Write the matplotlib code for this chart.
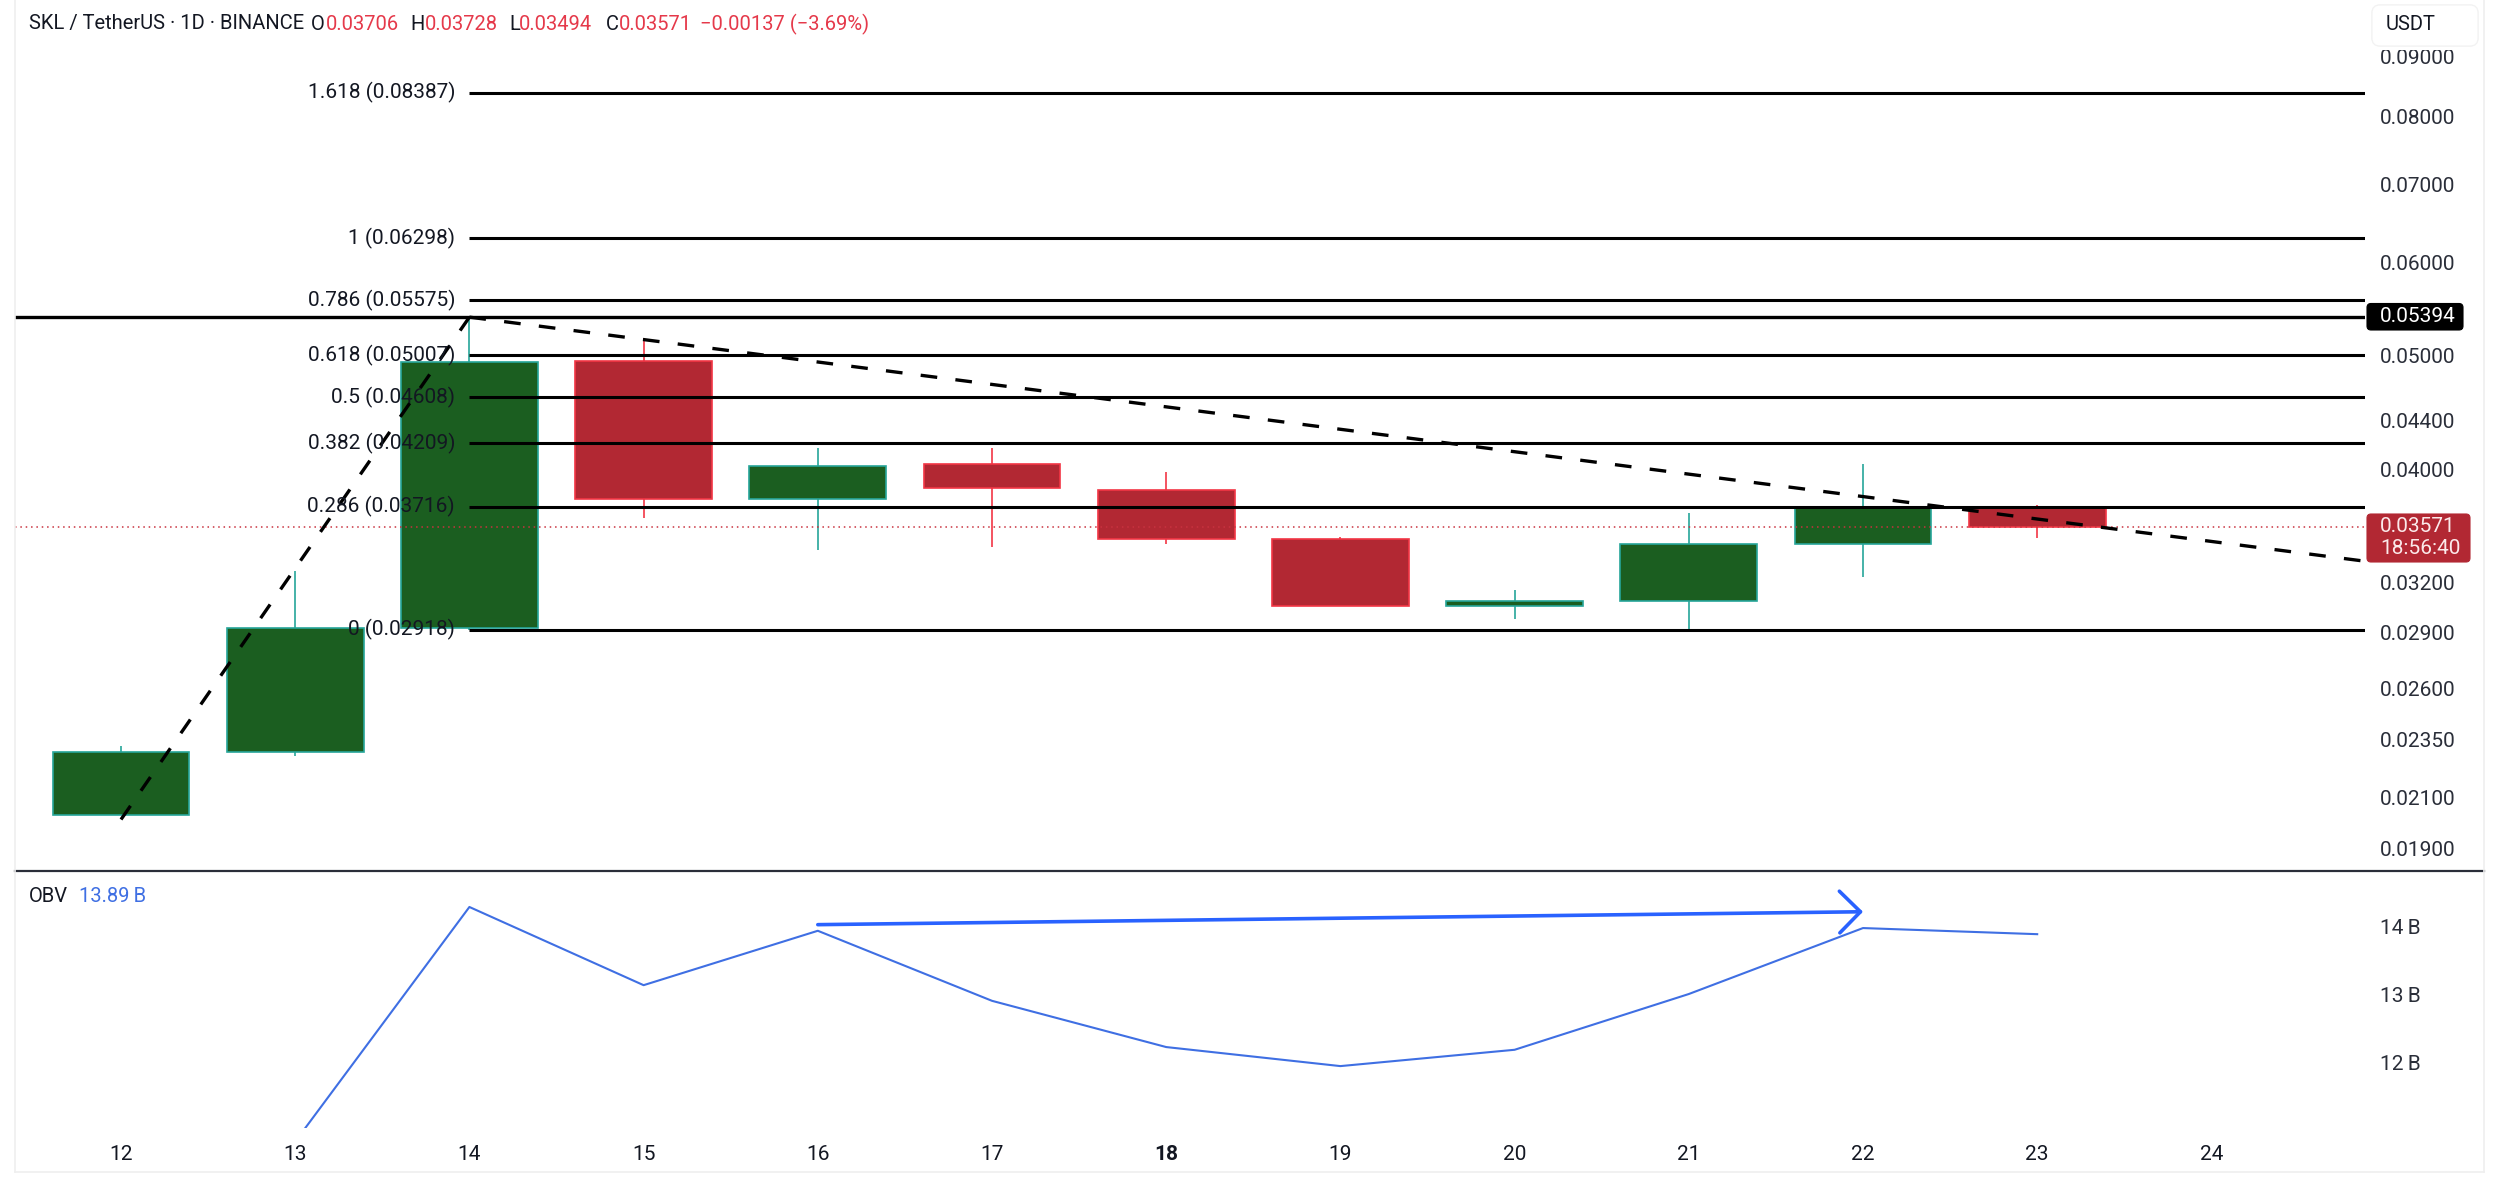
import numpy as np
import matplotlib
matplotlib.use('Agg')
import matplotlib.pyplot as plt
from matplotlib.lines import Line2D
from matplotlib.patches import FancyBboxPatch

plt.rcParams['font.family'] = ['Roboto', 'DejaVu Sans']

days = [12, 13, 14, 15, 16, 17, 18, 19, 20, 21, 22, 23]
opens = [0.02029, 0.02293, 0.02927, 0.04950, 0.03773, 0.04042, 0.03844, 0.03489, 0.03058, 0.03087, 0.03456, 0.03706]
highs = [0.02321, 0.03277, 0.05394, 0.05177, 0.04171, 0.04171, 0.03979, 0.03500, 0.03156, 0.03668, 0.04042, 0.03728]
lows = [0.02029, 0.02278, 0.02918, 0.03633, 0.03413, 0.03435, 0.03456, 0.03058, 0.02983, 0.02918, 0.03236, 0.03494]
closes = [0.02293, 0.02927, 0.04939, 0.03773, 0.04029, 0.03856, 0.03489, 0.03058, 0.03087, 0.03456, 0.03716, 0.03571]
obv = [10.84, 14.29, 13.14, 13.94, 12.91, 12.23, 11.95, 12.19, 13.01, 13.98, 13.89]
obv_days = [13, 14, 15, 16, 17, 18, 19, 20, 21, 22, 23]

fib_labels = ['1.618 (0.08387)', '1 (0.06298)', '0.786 (0.05575)', '0.618 (0.05007)',
              '0.5 (0.04608)', '0.382 (0.04209)', '0.286 (0.03716)', '0 (0.02918)']
fib_values = [0.08387, 0.06298, 0.05575, 0.05007, 0.04608, 0.04209, 0.03716, 0.02918]

price_ticks = [0.09, 0.08, 0.07, 0.06, 0.05, 0.044, 0.04, 0.032, 0.029, 0.026, 0.0235, 0.021, 0.019]
obv_ticks = [12, 13, 14]
day_ticks = [12, 13, 14, 15, 16, 17, 18, 19, 20, 21, 22, 23, 24]

last_price = 0.03571
swing_high = 0.05394

W, H = 2500, 1186
INK = '#131722'
GREEN, GREEN_EDGE = '#1b5e20', '#26a69a'
RED, RED_EDGE = '#b22833', '#f23645'
BLUE = '#3f6fe3'
FS = 15


def px_rect(x0, y0, x1, y1):
    return [x0 / W, 1 - y1 / H, (x1 - x0) / W, (y1 - y0) / H]


def ftext(x, y, s, **kw):
    kw.setdefault('fontsize', FS)
    kw.setdefault('color', INK)
    kw.setdefault('va', 'center')
    kw.setdefault('zorder', 20)
    return fig.text(x / W, 1 - y / H, s, **kw)


fig = plt.figure(figsize=(25, 11.86), dpi=100, facecolor='white')
ax = fig.add_axes(px_rect(15, 0, 2365, 870.7))
ax2 = fig.add_axes(px_rect(15, 870.7, 2365, 1128))

# x scale: day 12 sits at 121 px, 174.2 px per day
xlim = (12 + (15 - 121) / 174.2, 12 + (2365 - 121) / 174.2)

for a in (ax, ax2):
    a.set_xlim(xlim)
    a.patch.set_alpha(0)
    for s in a.spines.values():
        s.set_visible(False)

# price pane is log, 0.02918 at 629.8 px, 508.9 px per e-fold
ax.set_yscale('log')
ax.set_ylim(0.02918 * np.exp((629.8 - 870.7) / 508.9), 0.02918 * np.exp(629.8 / 508.9))
ax.yaxis.tick_right()
ax.yaxis.set_major_locator(matplotlib.ticker.FixedLocator(price_ticks))
ax.yaxis.set_minor_locator(matplotlib.ticker.NullLocator())
ax.yaxis.set_major_formatter(matplotlib.ticker.FuncFormatter(lambda v, p: '%.5f' % v))
ax.tick_params(axis='y', length=0, pad=11, labelsize=FS, labelcolor='#2a2e39')
ax.set_xticks([])

for d, o, h, l, c in zip(days, opens, highs, lows, closes):
    up = c >= o
    ax.vlines(d, l, h, color=GREEN_EDGE if up else RED_EDGE, lw=1.2, zorder=2)
    ax.bar(d, abs(c - o), bottom=min(o, c), width=0.786,
           color=GREEN if up else RED, edgecolor=GREEN_EDGE if up else RED_EDGE, lw=1.2, zorder=3)

ax.hlines(fib_values, 14, xlim[1], color='black', lw=2.2, zorder=4)
ax.axhline(swing_high, color='black', lw=2.4, zorder=4)
ax.axhline(last_price, color='#c9323f', lw=1.1, ls=(0, (1, 2.5)), zorder=4)
ax.plot([12, 14], [0.0201, swing_high], color='black', lw=2.4, ls=(0, (5, 5.5)), zorder=5)
ax.plot([14, xlim[1]], [swing_high, 0.03339], color='black', lw=2.4, ls=(0, (5, 5.5)), zorder=5)

for lab, v in zip(fib_labels, fib_values):
    ax.annotate(lab, (455 / W, v), xycoords=('figure fraction', 'data'), ha='right', va='center',
                fontsize=FS, color=INK, zorder=6)

# OBV pane, 14 B at 926.7 px, 68 px per B
ax2.set_ylim(14 - (1128 - 926.7) / 68, 14 + (926.7 - 870.7) / 68)
ax2.plot(obv_days, obv, color=BLUE, lw=1.5, zorder=3)
ax2.annotate('', xy=(22, 14.22), xytext=(16, 14.03),
             arrowprops=dict(arrowstyle='->,head_length=0.75,head_width=0.75', color='#2962ff', lw=2.6,
                             shrinkA=0, shrinkB=0, mutation_scale=20), zorder=4)
ax2.yaxis.tick_right()
ax2.set_yticks(obv_ticks)
ax2.set_yticklabels(['%d\u2009B' % t for t in obv_ticks])
ax2.tick_params(axis='y', length=0, pad=11, labelsize=FS, labelcolor='#2a2e39')
ax2.set_xticks(day_ticks)
ax2.set_xticklabels([str(d) for d in day_ticks])
ax2.tick_params(axis='x', length=0, pad=12, labelsize=FS, labelcolor=INK)
ax2.get_xticklabels()[day_ticks.index(18)].set_fontweight('bold')

# pane frame
fig.add_artist(Line2D([15 / W, 2484 / W], [1 - 870.7 / H] * 2, color='#2a2e39', lw=1.6))
for xs, ys in [([15, 15], [0, 1172]), ([2484, 2484], [0, 1172]), ([15, 2484], [1172, 1172])]:
    fig.add_artist(Line2D(np.array(xs) / W, 1 - np.array(ys) / H, color='#efefef', lw=1.2))


def box(x0, y0, x1, y1, color, edge=None, r=4):
    p = FancyBboxPatch((x0, H - y1), x1 - x0, y1 - y0, boxstyle='round,pad=0,rounding_size=%d' % r,
                       transform=matplotlib.transforms.Affine2D().scale(1 / W, 1 / H) + fig.transFigure,
                       fc=color, ec=edge or color, lw=0.8, zorder=15)
    fig.add_artist(p)


box(2372, 5, 2478, 46, 'white', '#f2f2f2', 8)
# hide the part of the top tick that runs under the currency box
fig.add_artist(plt.Rectangle((2372 / W, 1 - 50 / H), 106 / W, 50 / H, transform=fig.transFigure,
                             fc='white', ec='none', zorder=14))
box(2372, 5, 2478, 46, 'white', '#f2f2f2', 8)
ftext(2386, 25, 'USDT', fontsize=14.5)
box(2367, 303.5, 2463, 330, 'black')
ftext(2380, 316.5, '%.5f' % swing_high, color='white')
box(2367, 514, 2470, 562, '#b22833')
ftext(2380, 527, '%.5f' % last_price, color='#fbe9ea')
ftext(2380, 548, '18:56:40', color='#fbe9ea')

# header
HRED = '#e5394a'
ftext(28.6, 24, 'SKL / TetherUS · 1D · BINANCE', fontsize=14.5)
for x, s, col in [(311, 'O', INK), (325.5, '0.03706', HRED), (410, 'H', INK), (424.5, '0.03728', HRED),
                  (509, 'L', INK), (519, '0.03494', HRED), (605.6, 'C', INK), (619, '0.03571', HRED),
                  (700.5, '\u22120.00137 (\u22123.69%)', HRED)]:
    ftext(x, 24, s, color=col, fontsize=14.5)
ftext(28.6, 896, 'OBV', fontsize=14.5)
ftext(78.6, 896, '13.89\u2009B', fontsize=14.5, color=BLUE)

fig.savefig('out.png', dpi=100)
